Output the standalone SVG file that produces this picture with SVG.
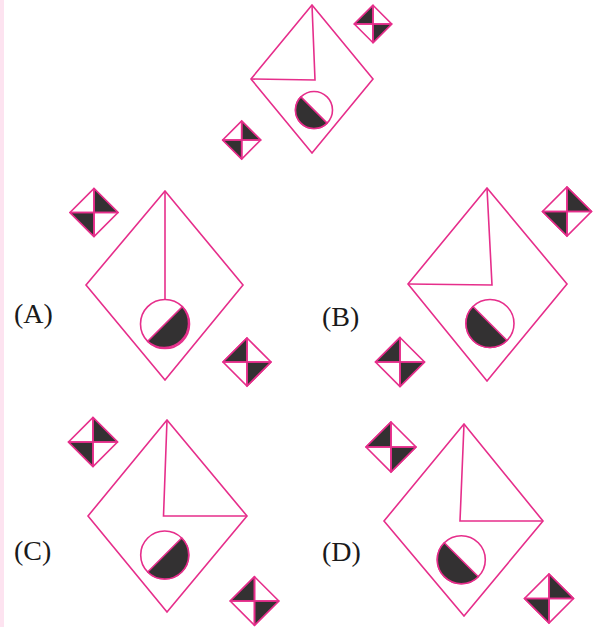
<svg xmlns="http://www.w3.org/2000/svg" width="601" height="627" viewBox="0 0 601 627">
<style>
.s{fill:none;stroke:#e62e8b;stroke-width:1.6;stroke-linejoin:miter}
.w{fill:#fff;stroke:#e62e8b;stroke-width:1.6}
.d{fill:#333132;stroke:#e62e8b;stroke-width:1.6;stroke-linejoin:round}
.t{font-family:"Liberation Serif","Times New Roman",serif;font-size:28px;fill:#1a1a1a}
</style>
<rect x="0" y="0" width="601" height="627" fill="#fff"/>
<rect x="0" y="0" width="4" height="627" fill="#fde3f0"/>

<g id="question">
  <polygon class="s" points="312,5 373,79 312,153 251,79"/>
  <polyline class="s" points="312,5 315,80 251,79"/>
  <circle class="w" cx="314" cy="110" r="18.5"/>
  <path class="d" d="M300.9,96.9 A18.5,18.5 0 0 0 327.1,123.1 Z"/>
  <g>
    <polygon class="w" points="373,5.3 391.7,24 373,42.7 354.3,24"/>
    <polygon class="d" points="373,5.3 354.3,24 373,24"/>
    <polygon class="d" points="391.7,24 373,42.7 373,24"/>
    <polyline class="s" points="373,5.3 373,42.7"/>
    <polyline class="s" points="354.3,24 391.7,24"/>
  </g>
  <g>
    <polygon class="w" points="241.7,121 260.7,140 241.7,159 222.7,140"/>
    <polygon class="d" points="241.7,121 260.7,140 241.7,140"/>
    <polygon class="d" points="222.7,140 241.7,159 241.7,140"/>
    <polyline class="s" points="241.7,121 241.7,159"/>
    <polyline class="s" points="222.7,140 260.7,140"/>
  </g>
</g>

<g id="optionA">
  <text class="t" x="14" y="323">(A)</text>
  <polygon class="s" points="165,191 243,285 165,380 86,285"/>
  <polyline class="s" points="165,191 165,299.5"/>
  <circle class="w" cx="165" cy="324" r="24.5"/>
  <path class="d" d="M182.3,306.7 A24.5,24.5 0 0 1 147.7,341.3 Z"/>
  <g>
    <polygon class="w" points="94,188.5 118,212.5 94,236.5 70,212.5"/>
    <polygon class="d" points="94,188.5 118,212.5 94,212.5"/>
    <polygon class="d" points="70,212.5 94,236.5 94,212.5"/>
    <polyline class="s" points="94,188.5 94,236.5"/>
    <polyline class="s" points="70,212.5 118,212.5"/>
  </g>
  <g>
    <polygon class="w" points="247,338 271,362 247,386 223,362"/>
    <polygon class="d" points="247,338 223,362 247,362"/>
    <polygon class="d" points="271,362 247,386 247,362"/>
    <polyline class="s" points="247,338 247,386"/>
    <polyline class="s" points="223,362 271,362"/>
  </g>
</g>

<g id="optionB">
  <text class="t" x="322" y="326">(B)</text>
  <polygon class="s" points="487,188 567,284 487,381 408,284"/>
  <polyline class="s" points="487,188 492,285 408,284"/>
  <circle class="w" cx="490" cy="323.5" r="24"/>
  <path class="d" d="M473,306.5 A24,24 0 0 0 507,340.5 Z"/>
  <g>
    <polygon class="w" points="567,187 591.5,211.5 567,236 542.5,211.5"/>
    <polygon class="d" points="567,187 591.5,211.5 567,211.5"/>
    <polygon class="d" points="542.5,211.5 567,236 567,211.5"/>
    <polyline class="s" points="567,187 567,236"/>
    <polyline class="s" points="542.5,211.5 591.5,211.5"/>
  </g>
  <g>
    <polygon class="w" points="400,337.5 424.5,362 400,386.5 375.5,362"/>
    <polygon class="d" points="400,337.5 375.5,362 400,362"/>
    <polygon class="d" points="424.5,362 400,386.5 400,362"/>
    <polyline class="s" points="400,337.5 400,386.5"/>
    <polyline class="s" points="375.5,362 424.5,362"/>
  </g>
</g>

<g id="optionC">
  <text class="t" x="14" y="560">(C)</text>
  <polygon class="s" points="167,420 247,516 167,612 88,516"/>
  <polyline class="s" points="167,420 163.5,516 247,516"/>
  <circle class="w" cx="164.7" cy="555" r="24"/>
  <path class="d" d="M181.7,538 A24,24 0 0 1 147.7,572 Z"/>
  <g>
    <polygon class="w" points="93,417.5 117.5,442 93,466.5 68.5,442"/>
    <polygon class="d" points="93,417.5 117.5,442 93,442"/>
    <polygon class="d" points="68.5,442 93,466.5 93,442"/>
    <polyline class="s" points="93,417.5 93,466.5"/>
    <polyline class="s" points="68.5,442 117.5,442"/>
  </g>
  <g>
    <polygon class="w" points="254.5,576.7 278.8,601 254.5,625.3 230.2,601"/>
    <polygon class="d" points="254.5,576.7 230.2,601 254.5,601"/>
    <polygon class="d" points="278.8,601 254.5,625.3 254.5,601"/>
    <polyline class="s" points="254.5,576.7 254.5,625.3"/>
    <polyline class="s" points="230.2,601 278.8,601"/>
  </g>
</g>

<g id="optionD">
  <text class="t" x="322" y="561">(D)</text>
  <polygon class="s" points="464,424 543,521 464,616 384,521"/>
  <polyline class="s" points="464,424 460,521 543,521"/>
  <circle class="w" cx="461.3" cy="559.7" r="24"/>
  <path class="d" d="M444.3,542.7 A24,24 0 0 0 478.3,576.7 Z"/>
  <g>
    <polygon class="w" points="391,422 416,447 391,472 366,447"/>
    <polygon class="d" points="391,422 366,447 391,447"/>
    <polygon class="d" points="416,447 391,472 391,447"/>
    <polyline class="s" points="391,422 391,472"/>
    <polyline class="s" points="366,447 416,447"/>
  </g>
  <g>
    <polygon class="w" points="549,574 573.5,598.5 549,623 524.5,598.5"/>
    <polygon class="d" points="549,574 573.5,598.5 549,598.5"/>
    <polygon class="d" points="524.5,598.5 549,623 549,598.5"/>
    <polyline class="s" points="549,574 549,623"/>
    <polyline class="s" points="524.5,598.5 573.5,598.5"/>
  </g>
</g>
</svg>
